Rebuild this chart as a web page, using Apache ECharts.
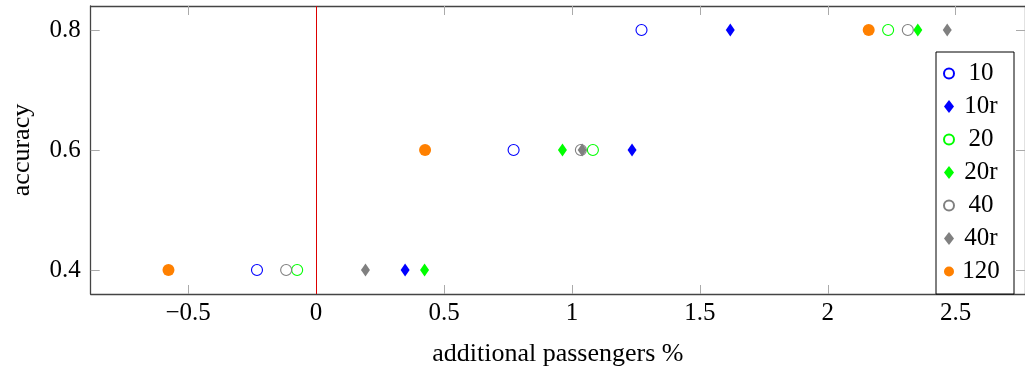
<!DOCTYPE html>
<html>
<head>
<meta charset="utf-8">
<script src="https://cdn.jsdelivr.net/npm/echarts@6/dist/echarts.min.js"></script>
<style>html,body{margin:0;padding:0;background:#fff}#c{width:1025px;height:373px}</style>
</head>
<body>
<div id="c"></div>
<script>
const yLevels = [0.4, 0.6, 0.8];
const xTicks = [-0.5, 0, 0.5, 1, 1.5, 2, 2.5];
const yTicks = [0.4, 0.6, 0.8];
const s10  = [-0.231, 0.772, 1.272];
const s10r = [0.348, 1.235, 1.619];
const s20  = [-0.074, 1.082, 2.236];
const s20r = [0.424, 0.963, 2.352];
const s40  = [-0.117, 1.035, 2.313];
const s40r = [0.193, 1.040, 2.467];
const s120 = [-0.577, 0.426, 2.160];

const FONT = 'Liberation Serif';
const pts = xs => xs.map((x, i) => [x, yLevels[i]]);
const hollow = (name, xs, c) => ({
  name, type: 'scatter', data: pts(xs), symbol: 'circle', symbolSize: 11,
  itemStyle: { color: 'rgba(255,255,255,0)', borderColor: c, borderWidth: 1.1, opacity: 1 }
});
const diamond = (name, xs, c) => ({
  name, type: 'scatter', data: pts(xs), symbol: 'diamond', symbolSize: [9, 13],
  itemStyle: { color: c, opacity: 1 }
});
const tickStyle = { inside: true, length: 9, lineStyle: { color: '#aaa', width: 1 } };
const lineStyle = { color: '#444', width: 1.3 };
const minus = v => String(v).replace('-', '\u2212');

const series = [
  hollow('10', s10, '#0000ff'),
  diamond('10r', s10r, '#0000ff'),
  hollow('20', s20, '#00ff00'),
  diamond('20r', s20r, '#00ff00'),
  hollow('40', s40, '#808080'),
  diamond('40r', s40r, '#808080'),
  { name: '120', type: 'scatter', data: pts(s120), symbol: 'circle', symbolSize: 12,
    itemStyle: { color: '#ff8000', opacity: 1 } }
];
series[0].markLine = {
  silent: true, symbol: ['none', 'none'], label: { show: false },
  lineStyle: { color: '#dd0000', width: 1, type: 'solid' },
  data: [{ xAxis: 0 }], animation: false
};

const chart = echarts.init(document.getElementById('c'));
chart.setOption({
  animation: false,
  backgroundColor: '#fff',
  grid: { left: 90.7, top: 6, width: 938.8, height: 288 },
  xAxis: [{
    type: 'value', min: -0.881, max: 2.771, position: 'bottom',
    name: 'additional passengers %', nameLocation: 'middle', nameGap: 47,
    nameTextStyle: { fontFamily: FONT, fontSize: 26, color: '#000' },
    axisLine: { show: true, onZero: false, lineStyle },
    axisTick: Object.assign({ customValues: xTicks }, tickStyle),
    axisLabel: { customValues: xTicks, formatter: minus, margin: 7, fontFamily: FONT, fontSize: 25, color: '#000' },
    splitLine: { show: false }
  }, {
    type: 'value', min: -0.881, max: 2.771, position: 'top',
    axisLine: { show: true, onZero: false, lineStyle },
    axisTick: Object.assign({ customValues: xTicks }, tickStyle),
    axisLabel: { show: false }, splitLine: { show: false }
  }],
  yAxis: [{
    type: 'value', min: 0.36, max: 0.84, position: 'left',
    name: 'accuracy', nameLocation: 'middle', nameGap: 56, nameRotate: 90,
    nameTextStyle: { fontFamily: FONT, fontSize: 26, color: '#000' },
    axisLine: { show: true, onZero: false, lineStyle },
    axisTick: Object.assign({ customValues: yTicks }, tickStyle),
    axisLabel: { customValues: yTicks, formatter: v => v.toFixed(1), margin: 10, fontFamily: FONT, fontSize: 25, color: '#000' },
    splitLine: { show: false }
  }, {
    type: 'value', min: 0.36, max: 0.84, position: 'right',
    axisLine: { show: true, onZero: false, lineStyle },
    axisTick: Object.assign({ customValues: yTicks }, tickStyle),
    axisLabel: { show: false }, splitLine: { show: false }
  }],
  legend: {
    orient: 'vertical', left: 936, top: 52,
    padding: [9, 11, 10, 7],
    itemWidth: 10, itemHeight: 13, itemGap: 8, itemTextGap: 5,
    backgroundColor: '#fff', borderColor: '#000', borderWidth: 1, borderRadius: 0,
    formatter: '{a|{name}}',
    textStyle: {
      fontFamily: FONT, fontSize: 25, color: '#000', lineHeight: 24,
      rich: { a: { width: 44, align: 'center', fontFamily: FONT, fontSize: 25, lineHeight: 24 } }
    },
    data: ['10', '10r', '20', '20r', '40', '40r', '120']
  },
  series
});
</script>
</body>
</html>
